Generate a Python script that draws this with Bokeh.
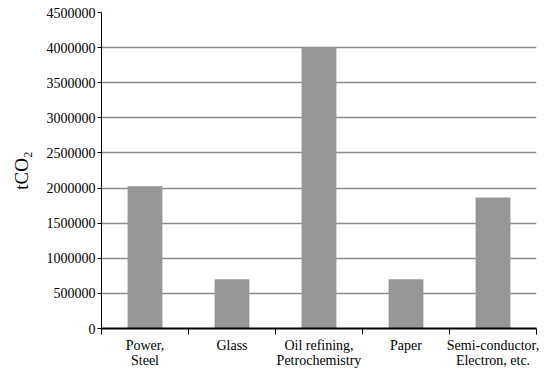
from bokeh.plotting import figure
from bokeh.models import Range1d, FixedTicker, NumeralTickFormatter
from bokeh.embed import file_html
from bokeh.resources import INLINE

categories = ["Power,\nSteel", "Glass", "Oil refining,\nPetrochemistry", "Paper", "Semi-conductor,\nElectron, etc."]
values = [2025000, 700000, 4000000, 700000, 1865000]
y_ticks = [0, 500000, 1000000, 1500000, 2000000, 2500000, 3000000, 3500000, 4000000, 4500000]

n = len(categories)
centers = [i + 0.5 for i in range(n)]
bounds = list(range(n + 1))

p = figure(width=548, height=375, output_backend="svg", toolbar_location=None,
           x_range=Range1d(0, n), y_range=Range1d(0, 4500000),
           min_border_left=101, min_border_right=12, min_border_top=12, min_border_bottom=47)
p.outline_line_color = None
p.background_fill_color = "white"
p.border_fill_color = "white"

p.vbar(x=centers, top=values, width=0.4, color="#969696", line_color=None)

font = "'Liberation Serif', 'Times New Roman', serif"
p.xgrid.visible = False
p.ygrid.ticker = FixedTicker(ticks=y_ticks)
p.ygrid.grid_line_color = "#8c8c8c"
p.ygrid.grid_line_width = 1.5

p.xaxis.ticker = FixedTicker(ticks=centers, minor_ticks=bounds)
p.xaxis.major_label_overrides = {c: lab for c, lab in zip(centers, categories)}
p.xaxis.major_tick_line_color = None
p.xaxis.major_tick_out = 0
p.xaxis.minor_tick_out = 6
p.xaxis.minor_tick_in = 0
p.xaxis.minor_tick_line_color = "black"
p.xaxis.minor_tick_line_width = 1
p.xaxis.axis_line_color = "black"
p.xaxis.axis_line_width = 2
p.xaxis.major_label_text_font = font
p.xaxis.major_label_text_font_size = "14px"
p.xaxis.major_label_text_color = "black"
p.xaxis.major_label_text_line_height = 1.05
p.xaxis.major_label_standoff = 3

p.yaxis.ticker = FixedTicker(ticks=y_ticks)
p.yaxis.formatter = NumeralTickFormatter(format="0")
p.yaxis.minor_tick_line_color = None
p.yaxis.major_tick_out = 4
p.yaxis.major_tick_in = 0
p.yaxis.axis_line_color = "black"
p.yaxis.axis_line_width = 1
p.yaxis.major_label_text_font = font
p.yaxis.major_label_text_font_size = "14px"
p.yaxis.major_label_text_color = "black"
p.yaxis.major_label_standoff = 2
p.yaxis.axis_label = "tCO₂"
p.yaxis.axis_label_text_font = font
p.yaxis.axis_label_text_font_size = "19px"
p.yaxis.axis_label_text_font_style = "normal"
p.yaxis.axis_label_text_color = "black"
p.yaxis.axis_label_standoff = 12

open("out.html", "w").write(file_html(p, INLINE))
